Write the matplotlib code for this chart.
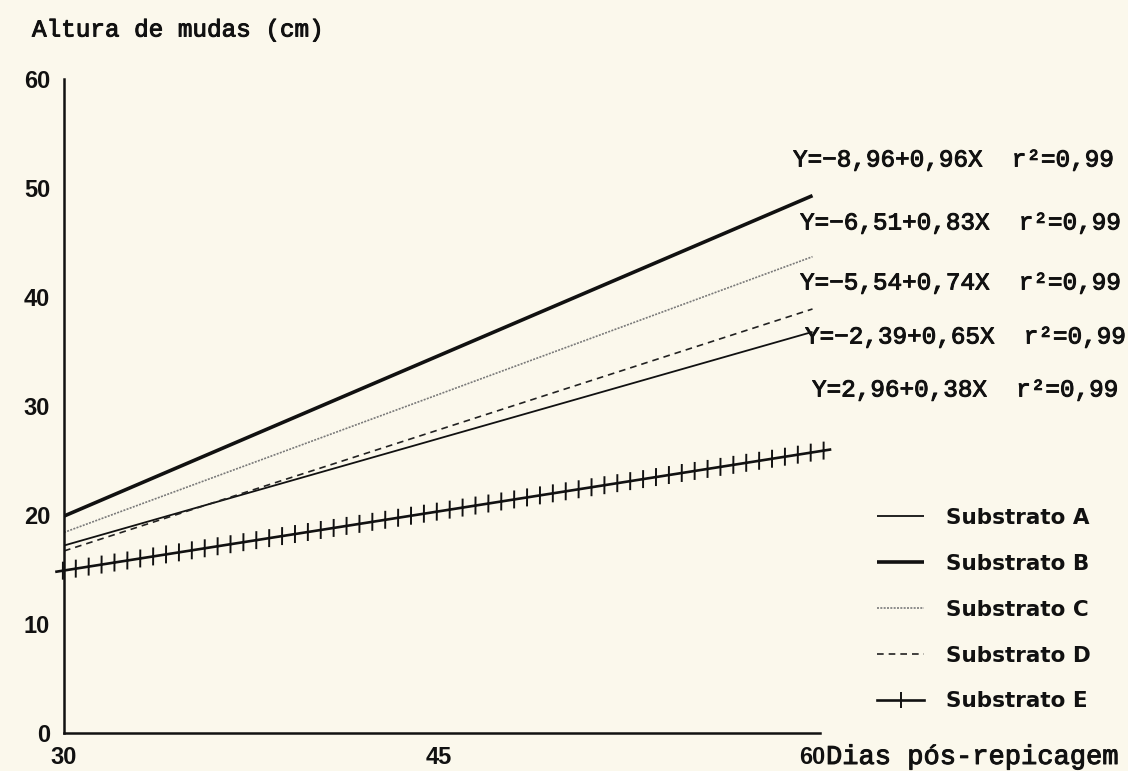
import matplotlib
matplotlib.use("Agg")
import matplotlib.pyplot as plt
from matplotlib.lines import Line2D
import matplotlib.patheffects as pe

# ---- data ----
days = [30, 60]
sub_A = [17.2, 36.8]
sub_B = [19.9, 49.3]
sub_C = [18.4, 43.7]
sub_D = [16.7, 38.9]
days_E = [29.7, 60.7]
sub_E = [14.8, 26.0]

labels = ["Substrato A", "Substrato B", "Substrato C", "Substrato D", "Substrato E"]
equations = [
    "Y=\u22128,96+0,96X  r\u00b2=0,99",
    "Y=\u22126,51+0,83X  r\u00b2=0,99",
    "Y=\u22125,54+0,74X  r\u00b2=0,99",
    "Y=\u22122,39+0,65X  r\u00b2=0,99",
    "Y=2,96+0,38X  r\u00b2=0,99",
]
x_ticks = [30, 45, 60]
y_ticks = [0, 10, 20, 30, 40, 50, 60]

BG = "#fbf8ec"
INK = "#111111"
W, H = 1128, 771
fig = plt.figure(figsize=(W / 100, H / 100), dpi=100, facecolor=BG)
ax = fig.add_axes([64 / W, 38 / H, 756 / W, (733 - 79) / H])
ax.set_facecolor(BG)

serif = "Liberation Mono"
thick = [pe.withStroke(linewidth=0.7, foreground=INK)]
tickfont = dict(family="Liberation Sans", weight="bold", size=17)

lA, = ax.plot(days, sub_A, color=INK, lw=1.3, solid_capstyle="butt")
lB, = ax.plot(days, sub_B, color=INK, lw=2.6, solid_capstyle="butt")
lC, = ax.plot(days, sub_C, color="#7a7a7a", lw=1.2, linestyle=(0, (1.2, 0.8)))
lD, = ax.plot(days, sub_D, color="#222222", lw=1.2, linestyle=(0, (4, 3)))
lE, = ax.plot(days_E, sub_E, color=INK, lw=1.9, clip_on=False,
              path_effects=[
                  pe.TickedStroke(angle=80.8, spacing=9.3, length=0.62, linewidth=1.4),
                  pe.withTickedStroke(angle=-99.2, spacing=9.3, length=0.62, linewidth=1.4),
              ])

ax.set_xlim(30, 60.3)
ax.set_ylim(0, 60)
for s in ["top", "right"]:
    ax.spines[s].set_visible(False)
for s in ["left", "bottom"]:
    ax.spines[s].set_linewidth(1.8)
    ax.spines[s].set_color(INK)

ax.set_xticks(x_ticks)
ax.set_xticklabels([str(v) for v in x_ticks], fontdict=tickfont)
ax.set_yticks(y_ticks)
ax.set_yticklabels([str(v) for v in y_ticks], fontdict=tickfont)
ax.tick_params(axis="x", length=0, pad=9, colors=INK)
ax.tick_params(axis="y", length=0, pad=10, colors=INK)

fig.text(32 / W, 1 - 30 / H, "Altura de mudas (cm)", family=serif, fontsize=17.5,
         va="center", ha="left", color=INK, path_effects=thick)
fig.text(826 / W, 1 - 757 / H, "Dias pós-repicagem", family=serif, fontsize=19.5,
         va="center", ha="left", color=INK, path_effects=thick)

eq_x = [793, 800, 800, 805, 812]
eq_y = [160, 223, 283, 337, 390]
for t, ex, ey in zip(equations, eq_x, eq_y):
    fig.text(ex / W, 1 - ey / H, t, family=serif, fontsize=17.5,
             va="center", ha="left", color=INK, path_effects=thick)

proxyE = Line2D([], [], color=INK, lw=1.9, marker="|", markersize=12,
                markeredgewidth=1.4)
leg = ax.legend([lA, lB, lC, lD, proxyE], labels,
                loc="upper left", bbox_to_anchor=(877 / W, 1 - 508 / H),
                bbox_transform=fig.transFigure, frameon=False, numpoints=1,
                borderpad=0, borderaxespad=0, handlelength=2.2, handletextpad=1.0,
                labelspacing=1.2,
                prop=dict(family="DejaVu Sans", weight="bold", size=15.5))
for t in leg.get_texts():
    t.set_color(INK)

fig.savefig("out.png", dpi=100, facecolor=BG)
